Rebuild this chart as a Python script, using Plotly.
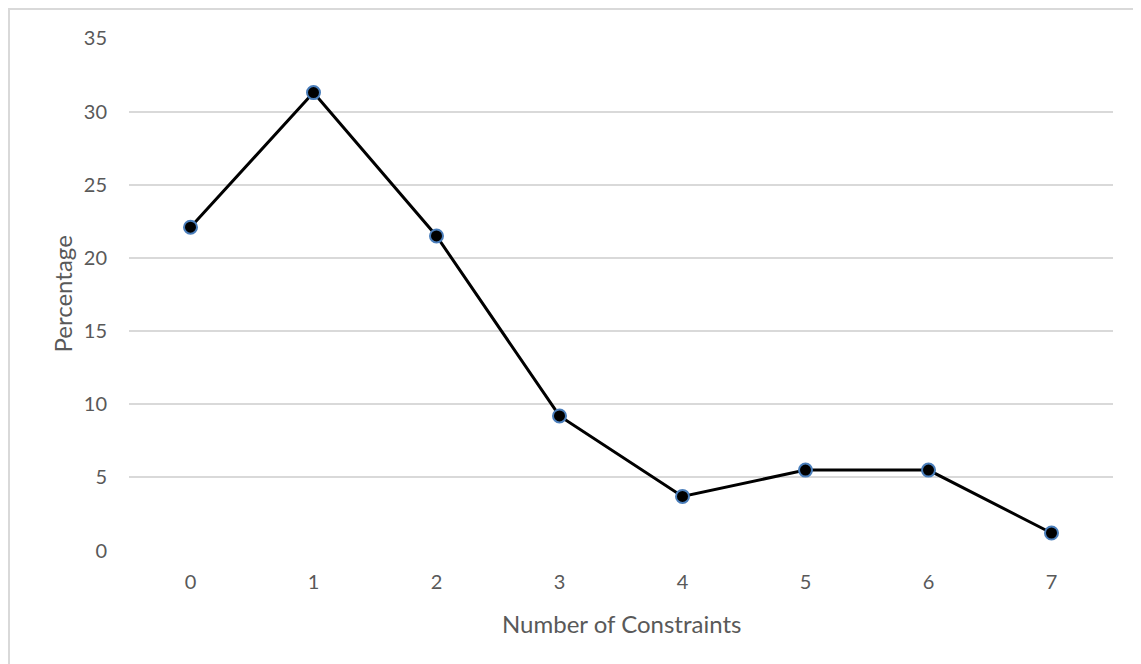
import plotly.graph_objects as go

categories = ["0", "1", "2", "3", "4", "5", "6", "7"]
percentages = [22.1, 31.3, 21.5, 9.2, 3.7, 5.5, 5.5, 1.2]
y_ticks = [0, 5, 10, 15, 20, 25, 30, 35]

FONT = "Lato"
GRAY = "#595959"

fig = go.Figure()
fig.add_trace(go.Scatter(
    x=categories, y=percentages, mode="lines+markers",
    line=dict(color="black", width=3),
    marker=dict(size=13, color="black", line=dict(color="#4a7ebb", width=2)),
    showlegend=False,
))

W, H = 1133, 656
L, R, T, B = 121, 28, 30, 113
pw, ph = W - L - R, H - T - B

fig.update_layout(
    width=W, height=H,
    margin=dict(l=L, r=R, t=T, b=B),
    paper_bgcolor="white", plot_bgcolor="white",
    font=dict(family=FONT, size=20, color=GRAY),
    xaxis=dict(
        type="category", range=[-0.5, 7.5], showgrid=False, zeroline=False,
        showline=False, ticks="outside", ticklen=13, tickcolor="rgba(0,0,0,0)",
        tickfont=dict(family=FONT, size=20, color=GRAY),
    ),
    yaxis=dict(
        range=[-0.03, 35.03], tickvals=y_ticks, showgrid=True, gridcolor="#d9d9d9",
        gridwidth=1.5, zeroline=False, showline=False,
        ticks="outside", ticklen=17, tickcolor="rgba(0,0,0,0)",
        tickfont=dict(family=FONT, size=20, color=GRAY),
    ),
    annotations=[
        dict(text="Number of Constraints", xref="paper", yref="paper",
             x=0.5, y=-72 / ph, yanchor="middle", xanchor="center", showarrow=False,
             font=dict(family=FONT, size=24, color=GRAY)),
        dict(text="Percentage", xref="paper", yref="paper",
             x=-(121 - 54) / pw, y=0.5, xanchor="center", yanchor="middle", textangle=-90,
             showarrow=False, font=dict(family=FONT, size=24, color=GRAY)),
    ],
    shapes=[
        dict(type="rect", xref="paper", yref="paper",
             x0=-(L - 1) / pw, y0=-1.0, x1=2.0, y1=1 + (T - 1) / ph,
             line=dict(color="#d9d9d9", width=2), fillcolor="rgba(0,0,0,0)",
             layer="below"),
    ],
)

fig.write_html("out.html")
